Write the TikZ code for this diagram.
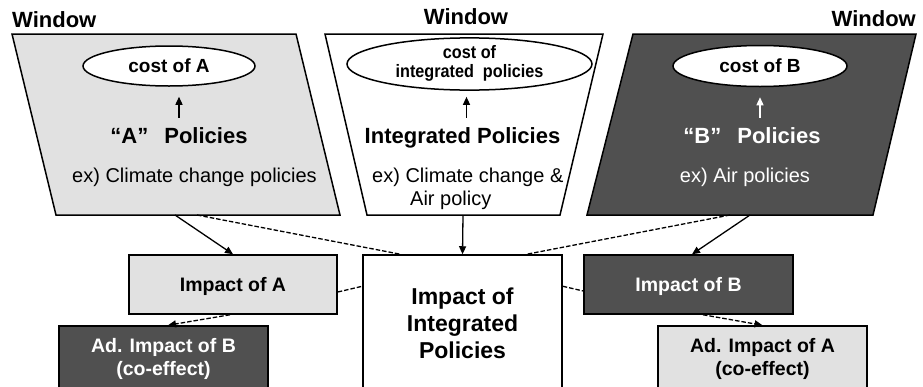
\documentclass[tikz,border=0pt]{standalone}
\usepackage{graphicx}
\usepackage{fontspec}
\setmainfont{Liberation Sans}
\usetikzlibrary{arrows.meta,calc,shapes.geometric}
\definecolor{panelLight}{RGB}{225,225,225}
\definecolor{panelDark}{RGB}{80,80,80}
\begin{document}
\begin{tikzpicture}[x=1pt,y=-1pt,
  outline/.style={draw=black,line width=1.5pt},
  tip/.style={-{Triangle[length=8pt,width=7pt]}},
  link/.style={line width=1.3pt},
  dashlink/.style={line width=1.3pt,dash pattern=on 4.5pt off 2pt},
  title/.style={font=\bfseries\fontsize{22}{26}\selectfont,inner sep=0pt},
  costbox/.style={ellipse,outline,fill=white,inner sep=0pt,font=\bfseries\fontsize{19}{22}\selectfont},
  polname/.style={font=\bfseries\fontsize{22}{26}\selectfont,inner sep=0pt,anchor=base},
  example/.style={font=\fontsize{20}{23}\selectfont,inner sep=0pt,anchor=base},
  impbox/.style={rectangle,outline,inner sep=0pt,font=\bfseries\fontsize{19.5}{23}\selectfont,align=center},
]
\useasboundingbox (0,0) rectangle (923,386);
\clip (0,0) rectangle (923,386);
\fill[white] (0,0) rectangle (923,386);

% window titles
\node[title,anchor=base west] (winA) at (12,27) {Window};
\node[title,anchor=base] (winI) at (466,24) {Window};
\node[title,anchor=base east] (winB) at (916,26) {Window};

% the three policy windows
\draw[outline,fill=panelLight] (12,34) -- (296,34) -- (340,215) -- (56,215) -- cycle;
\draw[outline,fill=white] (325,34) -- (603,34) -- (560,215) -- (367,215) -- cycle;
\draw[outline,fill=panelDark] (633,34) -- (916,34) -- (873,215) -- (587,215) -- cycle;

% costs
\node[costbox,minimum width=172pt,minimum height=40pt] (costA) at (169,66) {cost of A};
\node[costbox,minimum width=245pt,minimum height=48pt,font=\bfseries\fontsize{18}{18}\selectfont] (costI) at (469.5,64)
  {\scalebox{0.9}[1]{\begin{tabular}{@{}c@{}}cost of\\integrated\ \ policies\end{tabular}}};
\node[costbox,minimum width=174pt,minimum height=41pt] (costB) at (760,66) {cost of B};

% policies
\node[polname] (polA) at (179,143) {“A”\hspace{16pt}Policies};
\node[polname] (polI) at (462.5,143) {Integrated Policies};
\node[polname,text=white] (polB) at (752,143) {“B”\hspace{16pt}Policies};

\node[example] (exA) at (194.5,182) {ex) Climate change policies};
\node[example,anchor=base west,align=left] (exI) at (372,205) {ex) Climate change \&\\\hspace*{38pt}Air policy};
\node[example,text=white] (exB) at (745,182) {ex) Air policies};

% policy -> cost
\draw[link,tip] ($(polA.north)+(0,-9)$) -- ($(costA.south -| polA.north)+(0,10)$);
\draw[link,tip] ($(polI.north)+(4,-9)$) -- ($(costI.south -| polI.north)+(4,6)$);
\draw[link,tip,white] ($(costB.south |- polB.north)+(0,-9)$) -- ($(costB.south)+(0,10)$);

% exits of the windows
\coordinate (aOut) at (175,215);
\coordinate (aSide) at (197,215);
\coordinate (iOut) at (463,215);
\coordinate (bSide) at (730,215);
\coordinate (bOut) at (750,215);

% impacts
\node[impbox,fill=white,minimum width=199pt,minimum height=136pt,font=\bfseries\fontsize{23}{27}\selectfont] (impI) at (462.5,323) {Impact of\\Integrated\\Policies};
\node[impbox,fill=panelLight,minimum width=208pt,minimum height=59pt,text depth=0pt] (impA) at (233,284.5) {Impact of A};
\node[impbox,fill=panelDark,text=white,minimum width=209pt,minimum height=59pt,text depth=0pt] (impB) at (688.5,284.5) {Impact of B};
\node[impbox,fill=panelDark,text=white,minimum width=209pt,minimum height=65pt] (adB) at (163.5,358.5) {Ad. Impact of B\\(co-effect)};
\node[impbox,fill=panelLight,minimum width=209pt,minimum height=65pt] (adA) at (762.5,358.5) {Ad. Impact of A\\(co-effect)};

% connectors
\draw[link,tip] (aOut) -- (impA.north);
\draw[dashlink] (aSide) -- ([xshift=-62pt]impI.north);
\draw[link,tip] (iOut) -- (impI.north);
\draw[dashlink] (bSide) -- ([xshift=64pt]impI.north);
\draw[link,tip] (bOut) -- ([xshift=3.5pt]impB.north);
\draw[dashlink] ([yshift=-7.5pt]impA.east) -- ([yshift=-32pt]impI.north west);
\draw[dashlink] ([yshift=-32pt]impI.north east) -- ([yshift=-6.5pt]impB.west);
\draw[dashlink,tip] ([xshift=-3pt]impA.south) -- ([xshift=4.5pt]adB.north);
\draw[dashlink,tip] ([xshift=14.5pt]impB.south) -- (adA.north);
\end{tikzpicture}
\end{document}
